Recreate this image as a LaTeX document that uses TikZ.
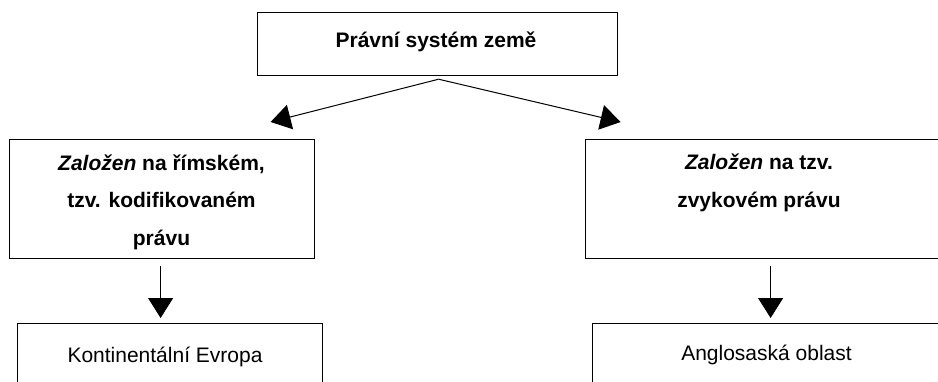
\documentclass[tikz,border=0pt]{standalone}
\usepackage{fontspec}
\setmainfont{Liberation Sans}
\usetikzlibrary{arrows.meta,calc}
\begin{document}
\begin{tikzpicture}[x=1pt,y=-1pt, line width=1.2pt,
 box/.style={draw, rectangle, inner sep=0pt, anchor=north west},
 txt/.style={inner sep=0pt, anchor=base, align=center, font=\fontsize{21}{37.5}\selectfont\bfseries},
 plain/.style={inner sep=0pt, anchor=base, font=\fontsize{21}{25}\selectfont},
 arr/.style={-{Triangle[length=20pt,width=25pt]}, line width=1pt}]
\useasboundingbox (0,0) rectangle (938,381);
\clip (0,0) rectangle (938,381);
\node[box, minimum width=360pt, minimum height=63pt] (top) at (257,12) {};
\node[box, minimum width=305pt, minimum height=119pt] (lmid) at (9,139) {};
\node[box, minimum width=370pt, minimum height=119pt] (rmid) at (585,139) {};
\node[box, minimum width=305pt, minimum height=100pt] (lbot) at (17,323) {};
\node[box, minimum width=400pt, minimum height=100pt] (rbot) at (592,323) {};
\node[txt] (ttop) at (436,47) {Právní systém země};
\node[txt] (tlmid) at (161.5,245) {\textit{Založen} na římském,\\ tzv. kodifikovaném\\ právu};
\node[txt] (trmid) at (759,207) {\textit{Založen} na tzv.\\ zvykovém právu};
\node[plain] (tlbot) at (165,362) {Kontinentální Evropa};
\node[plain] (trbot) at (766.5,360) {Anglosaská oblast};
\draw[arr] ($(top.south)+(1,3)$) -- ($(lmid.north)+(108.5,-17)$);
\draw[arr] ($(top.south)+(1,3)$) -- ($(rmid.north)+(-150,-17)$);
\draw[arr] ($(lmid.south)+(-1.5,7)$) -- ($(lbot.north)+(-9.5,-5)$);
\draw[arr] ($(rmid.south)+(0,7)$) -- ($(rbot.north)+(-22,-5)$);
\end{tikzpicture}
\end{document}
